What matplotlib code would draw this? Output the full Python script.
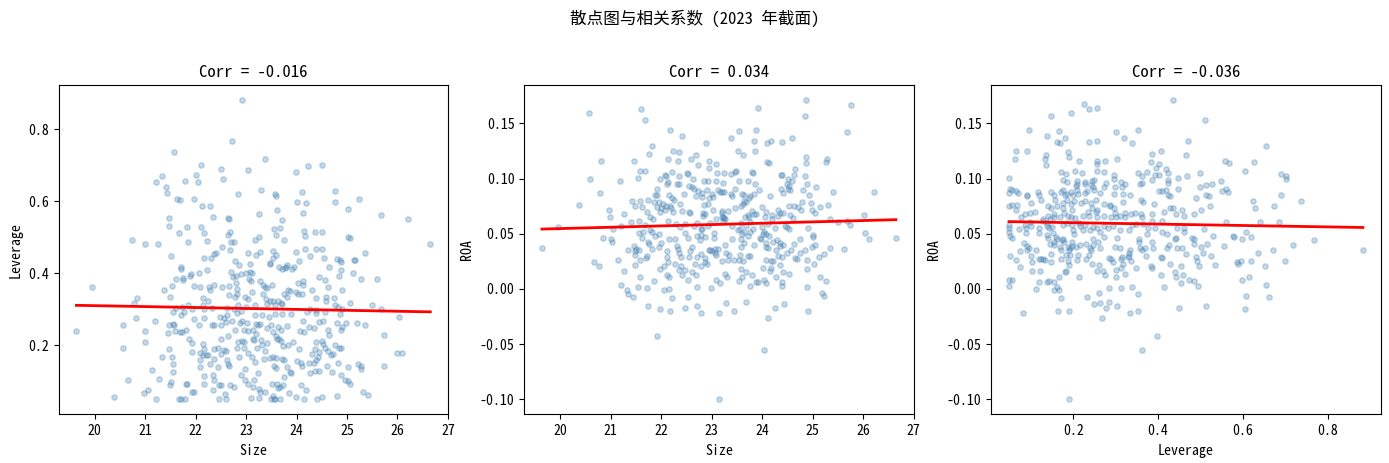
import numpy as np
import matplotlib

matplotlib.use("Agg")
import matplotlib.pyplot as plt

# half-width latin CJK face first (if present), then the normal CJK face
plt.rcParams["font.family"] = ["Noto Sans Mono CJK SC", "Noto Sans CJK SC", "DejaVu Sans"]
plt.rcParams["axes.unicode_minus"] = False

# panel 1: Size / Leverage
size = [
    22.93, 22.73, 21.58, 23.37, 22.10, 24.22, 24.51, 22.50, 23.04, 23.99,
    21.33, 22.00, 21.21, 22.04, 22.54, 21.80, 21.41, 21.43, 23.29, 24.10,
    24.77, 22.85, 23.58, 23.60, 21.63, 21.70, 21.97, 25.23, 24.01, 24.19,
    24.77, 22.13, 22.28, 25.01, 23.61, 24.12, 23.25, 25.68, 22.65, 21.47,
    22.34, 22.66, 26.20, 23.72, 21.47, 21.83, 22.10, 23.56, 23.68, 24.14,
    24.36, 24.51, 22.69, 22.17, 21.68, 22.65, 23.60, 24.16, 23.25, 25.01,
    25.05, 20.75, 23.76, 23.17, 22.22, 22.71, 22.77, 21.86, 21.00, 21.25,
    26.65, 22.53, 24.16, 24.38, 24.50, 22.69, 23.03, 23.27, 23.54, 23.98,
    25.35, 22.40, 22.37, 23.19, 23.60, 23.54, 24.26, 21.52, 22.17, 22.30,
    24.55, 24.81, 24.87, 24.89, 25.13, 25.15, 22.79, 24.04, 23.47, 23.47,
    23.07, 22.87, 23.82, 23.80, 24.65, 21.72, 23.96, 23.65, 23.71, 23.77,
    23.92, 21.72, 22.23, 24.89, 22.71, 23.07, 22.99, 23.11, 22.07, 25.11,
    22.91, 21.91, 21.89, 22.81, 24.85, 22.75, 24.44, 21.61, 21.75, 21.75,
    23.05, 23.09, 23.27, 24.56, 25.27, 25.60, 24.12, 24.02, 22.81, 24.12,
    23.33, 23.51, 21.96, 22.08, 22.26, 22.37, 21.53, 22.52, 22.67, 23.37,
    23.41, 24.63, 19.94, 22.83, 22.28, 21.37, 24.30, 24.91, 23.84, 23.88,
    23.98, 24.02, 24.10, 23.76, 23.33, 23.11, 22.67, 22.83, 22.79, 22.97,
    21.50, 22.14, 20.85, 23.82, 24.38, 24.58, 24.75, 23.03, 23.39, 23.47,
    22.24, 20.79, 25.05, 23.53, 23.63, 24.58, 23.69, 23.72, 23.41, 23.17,
    25.50, 21.86, 22.85, 22.14, 23.58, 24.77, 24.83, 22.62, 22.33, 21.62,
    21.74, 22.99, 22.77, 21.93, 22.17, 25.68, 24.91, 24.26, 24.38, 22.91,
    21.56, 21.77, 24.21, 24.56, 24.38, 22.83, 24.87, 23.72, 23.58, 23.90,
    22.62, 21.72, 23.17, 23.32, 20.83, 22.17, 26.03, 22.48, 22.57, 23.45,
    21.19, 21.96, 22.73, 22.93, 24.13, 22.61, 22.89, 23.01, 24.80, 25.19,
    24.99, 24.44, 24.52, 20.57, 21.47, 21.56, 21.58, 22.06, 22.32, 22.36,
    22.50, 23.19, 23.23, 23.27, 23.49, 25.35, 24.24, 24.91, 23.82, 23.63,
    24.34, 22.79, 22.95, 23.13, 24.89, 23.41, 23.69, 21.82, 24.62, 19.64,
    21.00, 21.60, 21.70, 21.74, 21.45, 23.04, 23.54, 24.06, 24.14, 25.74,
    24.64, 23.19, 23.60, 22.65, 22.51, 23.13, 23.62, 23.65, 21.88, 23.29,
    23.15, 23.70, 24.38, 24.50, 21.00, 22.85, 22.93, 22.95, 23.94, 21.92,
    22.14, 23.41, 24.52, 24.77, 23.74, 23.84, 23.31, 20.57, 22.45, 22.82,
    22.95, 23.21, 24.56, 24.85, 24.89, 21.47, 22.17, 22.36, 24.05, 24.36,
    24.62, 22.56, 22.61, 23.37, 21.92, 24.45, 25.99, 26.09, 22.08, 23.04,
    24.30, 24.68, 24.73, 22.51, 22.14, 22.20, 22.24, 21.53, 21.33, 22.87,
    23.11, 23.54, 23.60, 24.42, 23.35, 23.47, 23.72, 23.76, 22.08, 22.37,
    22.63, 24.00, 24.38, 23.17, 24.08, 24.24, 24.34, 24.83, 21.56, 22.65,
    22.28, 25.21, 25.27, 25.74, 22.67, 23.82, 23.56, 22.08, 22.45, 24.10,
    24.61, 25.01, 25.27, 23.60, 22.97, 21.13, 21.56, 24.36, 24.44, 24.71,
    23.23, 23.88, 23.90, 24.26, 22.35, 22.91, 24.89, 23.76, 22.17, 21.27,
    20.67, 22.37, 22.97, 23.15, 24.97, 25.01, 21.52, 22.17, 23.03, 25.05,
    21.49, 21.82, 21.84, 22.46, 22.51, 22.69, 23.52, 23.62, 23.74, 24.08,
    22.77, 23.13, 23.68, 23.64, 23.25, 24.18, 22.35, 21.05, 20.97, 21.92,
    21.96, 23.27, 23.37, 23.86, 25.31, 22.58, 25.41, 24.81, 20.38, 23.54,
    23.98, 24.51, 21.21, 21.68, 21.72, 21.80, 22.46, 22.61, 23.09, 23.49,
    23.55, 23.57, 23.68, 24.14, 24.40, 23.25,
]
leverage = [
    0.881, 0.767, 0.736, 0.717, 0.700, 0.698, 0.700, 0.689, 0.687, 0.683,
    0.670, 0.673, 0.653, 0.653, 0.661, 0.656, 0.639, 0.623, 0.633, 0.625,
    0.628, 0.620, 0.620, 0.615, 0.606, 0.603, 0.606, 0.606, 0.597, 0.595,
    0.598, 0.587, 0.586, 0.578, 0.575, 0.568, 0.564, 0.561, 0.555, 0.554,
    0.556, 0.551, 0.550, 0.547, 0.533, 0.528, 0.528, 0.522, 0.525, 0.519,
    0.514, 0.514, 0.514, 0.511, 0.511, 0.506, 0.506, 0.503, 0.500, 0.500,
    0.497, 0.494, 0.494, 0.492, 0.489, 0.488, 0.486, 0.486, 0.483, 0.483,
    0.481, 0.472, 0.469, 0.467, 0.467, 0.465, 0.456, 0.458, 0.461, 0.458,
    0.456, 0.456, 0.453, 0.450, 0.450, 0.444, 0.447, 0.447, 0.442, 0.444,
    0.442, 0.439, 0.436, 0.431, 0.436, 0.436, 0.433, 0.433, 0.428, 0.425,
    0.425, 0.422, 0.422, 0.419, 0.419, 0.417, 0.417, 0.417, 0.411, 0.414,
    0.411, 0.411, 0.409, 0.408, 0.403, 0.403, 0.400, 0.400, 0.400, 0.400,
    0.397, 0.397, 0.392, 0.394, 0.392, 0.389, 0.389, 0.383, 0.386, 0.381,
    0.383, 0.378, 0.378, 0.381, 0.383, 0.383, 0.378, 0.372, 0.372, 0.367,
    0.367, 0.367, 0.364, 0.361, 0.361, 0.367, 0.364, 0.361, 0.364, 0.361,
    0.358, 0.361, 0.361, 0.356, 0.353, 0.353, 0.353, 0.353, 0.353, 0.350,
    0.347, 0.344, 0.344, 0.344, 0.344, 0.347, 0.339, 0.344, 0.333, 0.333,
    0.333, 0.331, 0.331, 0.333, 0.331, 0.333, 0.331, 0.328, 0.328, 0.322,
    0.322, 0.319, 0.319, 0.322, 0.322, 0.322, 0.317, 0.314, 0.314, 0.311,
    0.311, 0.311, 0.311, 0.311, 0.311, 0.311, 0.306, 0.303, 0.303, 0.303,
    0.307, 0.306, 0.300, 0.300, 0.300, 0.300, 0.300, 0.300, 0.297, 0.296,
    0.294, 0.292, 0.292, 0.292, 0.289, 0.289, 0.286, 0.286, 0.286, 0.286,
    0.283, 0.283, 0.283, 0.283, 0.275, 0.275, 0.278, 0.278, 0.275, 0.278,
    0.269, 0.272, 0.269, 0.267, 0.267, 0.264, 0.261, 0.261, 0.261, 0.261,
    0.261, 0.264, 0.267, 0.256, 0.256, 0.258, 0.256, 0.256, 0.256, 0.256,
    0.256, 0.258, 0.256, 0.258, 0.256, 0.256, 0.250, 0.250, 0.253, 0.250,
    0.247, 0.244, 0.244, 0.242, 0.244, 0.247, 0.242, 0.244, 0.244, 0.239,
    0.239, 0.239, 0.236, 0.236, 0.233, 0.239, 0.236, 0.239, 0.236, 0.228,
    0.228, 0.231, 0.225, 0.225, 0.219, 0.219, 0.217, 0.219, 0.217, 0.214,
    0.214, 0.211, 0.208, 0.211, 0.208, 0.208, 0.211, 0.208, 0.208, 0.206,
    0.203, 0.206, 0.203, 0.200, 0.197, 0.200, 0.200, 0.194, 0.194, 0.194,
    0.194, 0.194, 0.194, 0.194, 0.192, 0.189, 0.189, 0.189, 0.189, 0.189,
    0.183, 0.186, 0.183, 0.183, 0.181, 0.181, 0.178, 0.178, 0.178, 0.178,
    0.175, 0.172, 0.175, 0.175, 0.172, 0.172, 0.172, 0.169, 0.167, 0.169,
    0.169, 0.169, 0.164, 0.167, 0.161, 0.164, 0.161, 0.158, 0.158, 0.161,
    0.158, 0.156, 0.158, 0.153, 0.150, 0.150, 0.150, 0.150, 0.147, 0.147,
    0.147, 0.147, 0.144, 0.144, 0.142, 0.139, 0.142, 0.139, 0.139, 0.142,
    0.142, 0.139, 0.133, 0.136, 0.133, 0.131, 0.125, 0.128, 0.128, 0.125,
    0.122, 0.125, 0.122, 0.122, 0.119, 0.119, 0.119, 0.111, 0.114, 0.106,
    0.103, 0.103, 0.103, 0.103, 0.103, 0.100, 0.097, 0.094, 0.094, 0.092,
    0.089, 0.092, 0.092, 0.089, 0.089, 0.089, 0.092, 0.092, 0.089, 0.089,
    0.083, 0.083, 0.083, 0.081, 0.078, 0.076, 0.076, 0.076, 0.067, 0.070,
    0.070, 0.070, 0.070, 0.067, 0.070, 0.064, 0.061, 0.058, 0.056, 0.059,
    0.056, 0.056, 0.050, 0.052, 0.052, 0.050, 0.050, 0.050, 0.053, 0.050,
    0.050, 0.052, 0.050, 0.050, 0.050, 0.053,
]

# panel 2: Size / ROA
size2 = [
    24.87, 25.76, 21.60, 23.92, 20.57, 24.85, 21.68, 22.18, 23.54, 23.88,
    25.68, 22.42, 23.38, 24.59, 23.84, 24.18, 24.10, 24.39, 22.89, 21.82,
    22.24, 22.35, 23.52, 23.86, 23.62, 21.76, 22.69, 24.87, 22.59, 22.14,
    25.28, 25.26, 20.81, 21.46, 22.34, 22.95, 24.10, 24.14, 24.87, 22.73,
    22.95, 23.09, 24.66, 21.59, 21.68, 22.21, 22.51, 22.53, 23.11, 23.25,
    23.49, 23.47, 23.38, 23.80, 23.82, 24.37, 24.39, 24.63, 24.85, 22.08,
    22.10, 22.35, 21.54, 20.59, 21.98, 22.63, 22.85, 22.93, 23.09, 23.23,
    23.54, 23.72, 21.19, 23.86, 24.52, 24.59, 22.14, 22.12, 22.32, 22.35,
    24.89, 24.50, 24.53, 24.52, 24.55, 22.55, 22.61, 22.65, 21.92, 23.13,
    23.46, 25.07, 24.37, 24.81, 23.94, 22.73, 22.91, 23.17, 23.21, 23.25,
    25.40, 26.21, 20.79, 22.45, 22.81, 23.01, 23.38, 23.60, 23.84, 24.42,
    21.88, 21.92, 22.16, 23.40, 23.64, 23.76, 24.93, 22.21, 22.26, 22.69,
    22.81, 22.95, 23.03, 23.74, 24.16, 21.74, 21.59, 21.43, 21.86, 21.96,
    23.64, 23.68, 24.79, 24.97, 22.04, 22.38, 22.93, 23.62, 20.38, 25.30,
    22.10, 22.18, 22.85, 23.58, 24.63, 24.53, 21.48, 21.62, 21.92, 22.00,
    24.72, 25.14, 23.47, 24.00, 20.97, 22.08, 22.20, 23.03, 23.21, 23.32,
    24.31, 24.99, 24.77, 24.07, 21.98, 22.24, 22.42, 22.55, 22.57, 21.72,
    23.80, 24.35, 24.41, 25.04, 21.27, 22.83, 22.87, 23.20, 26.02, 23.72,
    23.84, 23.88, 24.20, 24.31, 24.56, 20.99, 21.78, 22.83, 23.20, 23.22,
    23.24, 23.27, 23.66, 23.74, 24.06, 21.84, 22.14, 25.34, 24.20, 24.61,
    21.41, 21.56, 23.09, 23.23, 23.58, 23.76, 25.50, 25.68, 22.71, 22.97,
    24.12, 25.74, 22.30, 22.47, 22.65, 22.93, 23.68, 24.46, 21.21, 21.68,
    22.37, 23.40, 24.00, 24.91, 24.50, 19.96, 21.05, 22.79, 22.81, 23.52,
    23.56, 23.82, 24.25, 24.53, 21.78, 21.82, 21.64, 21.56, 23.64, 23.76,
    24.04, 26.04, 22.47, 23.04, 21.96, 23.60, 24.02, 24.08, 25.00, 25.00,
    21.88, 22.71, 22.79, 23.72, 24.14, 26.65, 20.85, 21.62, 22.53, 22.87,
    23.04, 23.96, 23.98, 26.11, 21.01, 22.16, 22.28, 22.77, 23.58, 23.40,
    21.03, 24.75, 24.29, 21.74, 22.00, 23.64, 24.07, 24.35, 24.22, 24.63,
    21.76, 23.84, 24.41, 25.05, 21.46, 21.96, 22.32, 22.61, 23.27, 23.58,
    24.07, 24.11, 24.35, 24.99, 19.64, 21.50, 21.56, 21.35, 21.82, 22.34,
    22.95, 22.97, 23.07, 23.13, 24.27, 24.57, 24.85, 25.34, 25.62, 21.49,
    22.57, 23.01, 23.07, 23.29, 22.36, 22.79, 24.50, 24.75, 25.22, 21.48,
    22.12, 23.09, 23.34, 23.56, 23.72, 23.76, 24.31, 24.39, 25.13, 21.72,
    21.70, 22.12, 22.40, 22.55, 22.71, 22.87, 24.66, 24.70, 21.15, 21.59,
    24.07, 24.21, 24.89, 23.20, 23.33, 23.45, 23.54, 23.62, 20.67, 22.14,
    22.86, 22.90, 24.17, 25.03, 20.77, 21.48, 22.28, 22.40, 22.67, 22.79,
    24.35, 24.02, 24.17, 21.98, 24.89, 22.36, 22.47, 23.58, 21.27, 22.06,
    22.61, 24.15, 22.41, 22.69, 22.12, 23.26, 23.68, 23.80, 24.42, 24.53,
    23.30, 21.59, 22.16, 24.27, 25.14, 23.60, 22.53, 23.09, 23.54, 24.04,
    25.26, 21.86, 23.17, 23.88, 23.92, 24.08, 24.39, 21.21, 24.39, 23.76,
    21.54, 21.72, 22.71, 22.99, 24.89, 22.06, 22.16, 21.33, 25.18, 21.35,
    25.22, 21.45, 22.22, 22.53, 23.68, 23.28, 24.43, 21.74, 22.71, 22.47,
    24.25, 21.98, 22.18, 22.79, 23.14, 23.44, 24.91, 24.11, 21.92, 24.04,
    23.14,
]
roa2 = [
    0.171, 0.167, 0.163, 0.164, 0.159, 0.157, 0.153, 0.144, 0.143, 0.144,
    0.142, 0.139, 0.137, 0.137, 0.134, 0.134, 0.132, 0.133, 0.132, 0.130,
    0.125, 0.124, 0.125, 0.125, 0.121, 0.122, 0.121, 0.120, 0.118, 0.118,
    0.118, 0.115, 0.116, 0.116, 0.116, 0.116, 0.115, 0.114, 0.114, 0.112,
    0.110, 0.113, 0.109, 0.107, 0.107, 0.106, 0.105, 0.104, 0.105, 0.105,
    0.107, 0.106, 0.104, 0.106, 0.105, 0.103, 0.103, 0.103, 0.102, 0.103,
    0.102, 0.102, 0.101, 0.100, 0.100, 0.100, 0.098, 0.098, 0.098, 0.096,
    0.098, 0.098, 0.098, 0.095, 0.100, 0.098, 0.097, 0.095, 0.095, 0.095,
    0.095, 0.095, 0.093, 0.091, 0.090, 0.093, 0.092, 0.091, 0.091, 0.090,
    0.091, 0.092, 0.091, 0.090, 0.090, 0.089, 0.090, 0.088, 0.088, 0.088,
    0.088, 0.088, 0.087, 0.086, 0.087, 0.086, 0.086, 0.086, 0.086, 0.087,
    0.085, 0.085, 0.085, 0.084, 0.085, 0.084, 0.085, 0.082, 0.081, 0.084,
    0.083, 0.082, 0.083, 0.082, 0.084, 0.081, 0.080, 0.080, 0.079, 0.079,
    0.080, 0.079, 0.079, 0.078, 0.077, 0.077, 0.077, 0.077, 0.076, 0.076,
    0.075, 0.075, 0.076, 0.075, 0.075, 0.075, 0.075, 0.074, 0.074, 0.073,
    0.074, 0.074, 0.073, 0.074, 0.072, 0.072, 0.073, 0.072, 0.071, 0.071,
    0.072, 0.072, 0.072, 0.070, 0.070, 0.070, 0.071, 0.070, 0.069, 0.070,
    0.071, 0.069, 0.069, 0.069, 0.068, 0.069, 0.068, 0.069, 0.067, 0.067,
    0.068, 0.068, 0.067, 0.066, 0.067, 0.065, 0.065, 0.066, 0.065, 0.065,
    0.064, 0.063, 0.065, 0.065, 0.065, 0.063, 0.062, 0.063, 0.063, 0.064,
    0.061, 0.062, 0.063, 0.062, 0.060, 0.061, 0.061, 0.062, 0.060, 0.060,
    0.059, 0.058, 0.059, 0.059, 0.057, 0.057, 0.057, 0.057, 0.057, 0.058,
    0.056, 0.057, 0.056, 0.055, 0.056, 0.056, 0.054, 0.054, 0.054, 0.053,
    0.054, 0.054, 0.055, 0.054, 0.053, 0.052, 0.052, 0.051, 0.052, 0.052,
    0.052, 0.051, 0.051, 0.051, 0.050, 0.050, 0.050, 0.050, 0.049, 0.047,
    0.048, 0.048, 0.049, 0.048, 0.048, 0.046, 0.046, 0.046, 0.046, 0.047,
    0.046, 0.046, 0.045, 0.045, 0.045, 0.045, 0.045, 0.044, 0.045, 0.045,
    0.043, 0.045, 0.044, 0.043, 0.042, 0.042, 0.042, 0.042, 0.043, 0.041,
    0.041, 0.040, 0.040, 0.040, 0.039, 0.038, 0.039, 0.038, 0.040, 0.038,
    0.038, 0.037, 0.039, 0.038, 0.037, 0.036, 0.035, 0.035, 0.036, 0.036,
    0.035, 0.035, 0.036, 0.036, 0.035, 0.035, 0.035, 0.037, 0.036, 0.034,
    0.034, 0.034, 0.033, 0.033, 0.033, 0.032, 0.033, 0.033, 0.032, 0.031,
    0.034, 0.031, 0.031, 0.031, 0.030, 0.030, 0.030, 0.029, 0.029, 0.030,
    0.028, 0.029, 0.029, 0.029, 0.029, 0.028, 0.028, 0.027, 0.026, 0.026,
    0.026, 0.025, 0.026, 0.025, 0.026, 0.026, 0.026, 0.025, 0.024, 0.024,
    0.024, 0.023, 0.025, 0.023, 0.021, 0.022, 0.023, 0.021, 0.023, 0.021,
    0.022, 0.019, 0.019, 0.018, 0.018, 0.017, 0.017, 0.018, 0.016, 0.021,
    0.015, 0.016, 0.013, 0.013, 0.013, 0.014, 0.015, 0.013, 0.015, 0.014,
    0.011, 0.011, 0.011, 0.011, 0.011, 0.011, 0.008, 0.008, 0.007, 0.008,
    0.007, 0.007, 0.005, 0.006, 0.006, 0.005, 0.006, 0.004, 0.003, 0.003,
    0.002, 0.001, 0.002, 0.001, 0.002, -0.001, 0.000, -0.001, -0.004, -0.005,
    -0.006, -0.007, -0.008, -0.007, -0.012, -0.013, -0.014, -0.015, -0.015, -0.017,
    -0.017, -0.018, -0.020, -0.022, -0.022, -0.020, -0.020, -0.026, -0.043, -0.055,
    -0.100,
]

# panel 3: Leverage / ROA
leverage3 = [
    0.226, 0.238, 0.255, 0.435, 0.148, 0.195, 0.096, 0.167, 0.300, 0.353,
    0.139, 0.320, 0.181, 0.162, 0.168, 0.238, 0.255, 0.339, 0.066, 0.092,
    0.064, 0.188, 0.191, 0.137, 0.134, 0.137, 0.214, 0.255, 0.255, 0.276,
    0.304, 0.386, 0.407, 0.383, 0.403, 0.395, 0.419, 0.424, 0.172, 0.184,
    0.205, 0.220, 0.257, 0.273, 0.352, 0.373, 0.363, 0.393, 0.403, 0.049,
    0.295, 0.297, 0.176, 0.186, 0.209, 0.209, 0.229, 0.229, 0.245, 0.248,
    0.242, 0.278, 0.313, 0.322, 0.358, 0.363, 0.386, 0.424, 0.424, 0.447,
    0.052, 0.057, 0.065, 0.049, 0.070, 0.092, 0.092, 0.117, 0.120, 0.125,
    0.149, 0.156, 0.158, 0.172, 0.176, 0.181, 0.186, 0.195, 0.200, 0.207,
    0.209, 0.212, 0.228, 0.233, 0.247, 0.249, 0.264, 0.273, 0.298, 0.314,
    0.297, 0.318, 0.333, 0.359, 0.364, 0.391, 0.403, 0.409, 0.419, 0.424,
    0.427, 0.446, 0.055, 0.067, 0.066, 0.049, 0.101, 0.141, 0.148, 0.162,
    0.176, 0.186, 0.195, 0.202, 0.219, 0.227, 0.241, 0.254, 0.272, 0.287,
    0.287, 0.295, 0.318, 0.299, 0.322, 0.346, 0.257, 0.253, 0.236, 0.197,
    0.176, 0.178, 0.156, 0.111, 0.087, 0.099, 0.078, 0.099, 0.129, 0.141,
    0.146, 0.156, 0.168, 0.188, 0.195, 0.205, 0.224, 0.238, 0.245, 0.256,
    0.272, 0.290, 0.302, 0.311, 0.323, 0.336, 0.360, 0.362, 0.386, 0.386,
    0.410, 0.413, 0.427, 0.434, 0.442, 0.049, 0.049, 0.049, 0.051, 0.057,
    0.087, 0.089, 0.089, 0.073, 0.101, 0.120, 0.120, 0.129, 0.139, 0.139,
    0.143, 0.150, 0.153, 0.160, 0.176, 0.176, 0.186, 0.197, 0.200, 0.202,
    0.214, 0.216, 0.224, 0.228, 0.240, 0.247, 0.256, 0.263, 0.272, 0.282,
    0.293, 0.311, 0.332, 0.339, 0.348, 0.365, 0.376, 0.374, 0.393, 0.410,
    0.420, 0.439, 0.445, 0.052, 0.066, 0.075, 0.075, 0.085, 0.092, 0.097,
    0.092, 0.101, 0.104, 0.113, 0.120, 0.125, 0.129, 0.139, 0.141, 0.146,
    0.148, 0.134, 0.122, 0.104, 0.148, 0.154, 0.156, 0.161, 0.168, 0.171,
    0.173, 0.178, 0.188, 0.191, 0.193, 0.197, 0.197, 0.207, 0.212, 0.193,
    0.171, 0.183, 0.188, 0.191, 0.183, 0.167, 0.180, 0.209, 0.216, 0.231,
    0.240, 0.241, 0.238, 0.247, 0.247, 0.259, 0.264, 0.273, 0.245, 0.231,
    0.260, 0.270, 0.285, 0.289, 0.298, 0.304, 0.311, 0.313, 0.315, 0.318,
    0.294, 0.301, 0.313, 0.323, 0.331, 0.333, 0.331, 0.329, 0.336, 0.356,
    0.356, 0.358, 0.361, 0.370, 0.372, 0.386, 0.389, 0.406, 0.408, 0.421,
    0.425, 0.429, 0.407, 0.415, 0.439, 0.441, 0.453, 0.453, 0.443, 0.445,
    0.049, 0.055, 0.049, 0.082, 0.112, 0.120, 0.139, 0.144, 0.154, 0.156,
    0.163, 0.167, 0.172, 0.165, 0.191, 0.214, 0.233, 0.249, 0.261, 0.264,
    0.267, 0.278, 0.285, 0.255, 0.276, 0.285, 0.304, 0.313, 0.339, 0.353,
    0.334, 0.353, 0.301, 0.397, 0.362, 0.191, 0.349, 0.383, 0.385, 0.510,
    0.470, 0.465, 0.655, 0.557, 0.566, 0.625, 0.604, 0.498, 0.467, 0.689,
    0.700, 0.700, 0.547, 0.526, 0.512, 0.498, 0.550, 0.559, 0.564, 0.512,
    0.519, 0.689, 0.489, 0.623, 0.736, 0.521, 0.672, 0.627, 0.500, 0.456,
    0.484, 0.460, 0.559, 0.639, 0.684, 0.460, 0.507, 0.460, 0.606, 0.529,
    0.576, 0.578, 0.618, 0.479, 0.484, 0.597, 0.766, 0.515, 0.484, 0.555,
    0.502, 0.717, 0.456, 0.670, 0.882, 0.634, 0.505, 0.465, 0.524, 0.489,
    0.491, 0.698, 0.585, 0.587, 0.594, 0.618, 0.496, 0.533, 0.651, 0.458,
    0.472, 0.484, 0.493, 0.597, 0.613, 0.653, 0.607, 0.660, 0.512, 0.604,
    0.448,
]
roa3 = [
    0.168, 0.163, 0.164, 0.171, 0.157, 0.159, 0.144, 0.143, 0.142, 0.144,
    0.139, 0.137, 0.137, 0.133, 0.132, 0.133, 0.134, 0.132, 0.125, 0.125,
    0.118, 0.124, 0.120, 0.121, 0.118, 0.112, 0.116, 0.116, 0.113, 0.116,
    0.118, 0.122, 0.125, 0.115, 0.113, 0.110, 0.109, 0.105, 0.106, 0.104,
    0.107, 0.105, 0.107, 0.106, 0.105, 0.106, 0.102, 0.103, 0.103, 0.101,
    0.103, 0.100, 0.099, 0.097, 0.098, 0.095, 0.097, 0.095, 0.098, 0.099,
    0.094, 0.096, 0.097, 0.095, 0.095, 0.096, 0.099, 0.099, 0.096, 0.101,
    0.091, 0.090, 0.089, 0.087, 0.087, 0.085, 0.084, 0.088, 0.085, 0.081,
    0.088, 0.085, 0.081, 0.088, 0.090, 0.085, 0.086, 0.088, 0.085, 0.093,
    0.090, 0.086, 0.087, 0.089, 0.092, 0.090, 0.087, 0.092, 0.092, 0.092,
    0.086, 0.086, 0.085, 0.081, 0.079, 0.077, 0.089, 0.089, 0.090, 0.085,
    0.084, 0.091, 0.076, 0.076, 0.072, 0.075, 0.078, 0.075, 0.073, 0.075,
    0.078, 0.081, 0.077, 0.080, 0.078, 0.080, 0.078, 0.081, 0.077, 0.076,
    0.075, 0.073, 0.079, 0.069, 0.069, 0.069, 0.072, 0.070, 0.070, 0.072,
    0.073, 0.069, 0.068, 0.070, 0.068, 0.069, 0.065, 0.061, 0.063, 0.066,
    0.063, 0.065, 0.065, 0.066, 0.065, 0.064, 0.066, 0.066, 0.073, 0.065,
    0.066, 0.065, 0.065, 0.066, 0.065, 0.068, 0.068, 0.065, 0.068, 0.062,
    0.062, 0.070, 0.073, 0.073, 0.068, 0.058, 0.055, 0.052, 0.048, 0.046,
    0.058, 0.055, 0.051, 0.054, 0.057, 0.055, 0.051, 0.062, 0.060, 0.057,
    0.055, 0.056, 0.051, 0.047, 0.058, 0.045, 0.060, 0.058, 0.053, 0.050,
    0.060, 0.057, 0.053, 0.058, 0.053, 0.056, 0.055, 0.052, 0.057, 0.055,
    0.057, 0.053, 0.053, 0.058, 0.059, 0.059, 0.055, 0.050, 0.055, 0.052,
    0.050, 0.045, 0.055, 0.030, 0.026, 0.020, 0.034, 0.042, 0.039, 0.037,
    0.035, 0.030, 0.024, 0.035, 0.027, 0.027, 0.027, 0.049, 0.046, 0.041,
    0.032, 0.026, 0.016, 0.016, 0.024, 0.043, 0.040, 0.045, 0.038, 0.035,
    0.044, 0.043, 0.038, 0.035, 0.037, 0.043, 0.039, 0.038, 0.031, 0.031,
    0.027, 0.031, 0.025, 0.022, 0.016, 0.011, 0.015, 0.026, 0.040, 0.041,
    0.037, 0.035, 0.031, 0.040, 0.045, 0.043, 0.037, 0.047, 0.023, 0.027,
    0.022, 0.016, 0.028, 0.027, 0.038, 0.046, 0.037, 0.027, 0.029, 0.023,
    0.024, 0.017, 0.019, 0.014, 0.033, 0.035, 0.030, 0.029, 0.025, 0.045,
    0.043, 0.037, 0.035, 0.037, 0.030, 0.043, 0.037, 0.029, 0.028, 0.037,
    0.040, 0.023, 0.013, 0.002, 0.015, 0.011, 0.021, 0.005, 0.046, 0.037,
    0.008, 0.008, 0.003, -0.022, 0.000, 0.006, 0.006, 0.007, 0.006, -0.001,
    0.002, -0.001, -0.008, -0.020, -0.020, 0.011, -0.007, -0.014, -0.004, -0.013,
    -0.026, -0.017, -0.012, 0.016, 0.013, 0.001, -0.015, 0.001, 0.002, -0.005,
    -0.022, -0.020, 0.011, -0.043, -0.055, -0.100, 0.019, 0.021, 0.019, 0.153,
    0.134, 0.121, 0.130, 0.116, 0.114, 0.115, 0.107, 0.105, 0.102, 0.104,
    0.102, 0.100, 0.098, 0.095, 0.094, 0.092, 0.089, 0.091, 0.088, 0.085,
    0.084, 0.085, 0.082, 0.080, 0.080, 0.075, 0.075, 0.073, 0.072, 0.072,
    0.068, 0.066, 0.061, 0.061, 0.061, 0.055, 0.054, 0.052, 0.052, 0.048,
    0.048, 0.047, 0.047, 0.046, 0.045, 0.045, 0.044, 0.041, 0.041, 0.039,
    0.038, 0.040, 0.037, 0.035, 0.035, 0.033, 0.033, 0.032, 0.030, 0.029,
    0.025, 0.025, 0.024, 0.023, 0.025, 0.025, 0.021, 0.022, 0.021, 0.013,
    0.008, 0.007, 0.003, 0.008, 0.011, 0.004, -0.006, -0.007, -0.015, -0.018,
    -0.017,
]

# correlations as printed in the panel titles
corr_shown = [-0.016, 0.034, -0.036]
panels = [
    (size, leverage, "Size", "Leverage"),
    (size2, roa2, "Size", "ROA"),
    (leverage3, roa3, "Leverage", "ROA"),
]

W, H = 1389, 463
fig = plt.figure(figsize=(W / 100, H / 100), dpi=100)
lefts = [58.7, 524.3, 991.3]
axes = [fig.add_axes([l / W, 48.7 / H, 389.3 / W, 329 / H]) for l in lefts]

for ax, (xv, yv, xl, yl), c in zip(axes, panels, corr_shown):
    x = np.asarray(xv)
    y = np.asarray(yv)
    ax.scatter(x, y, s=15, alpha=0.3, color="steelblue")
    k, b = np.polyfit(x, y, 1)
    xs = np.array([x.min(), x.max()])
    ax.plot(xs, k * xs + b, color="red", lw=2)
    ax.set_title(f"Corr = {c:.3f}", fontsize=12)
    ax.set_xlabel(xl)
    ax.set_ylabel(yl)

fig.suptitle("散点图与相关系数 (2023 年截面)", fontsize=12, y=1 - 18 / H, va="center")
fig.savefig("out.png", dpi=100)
